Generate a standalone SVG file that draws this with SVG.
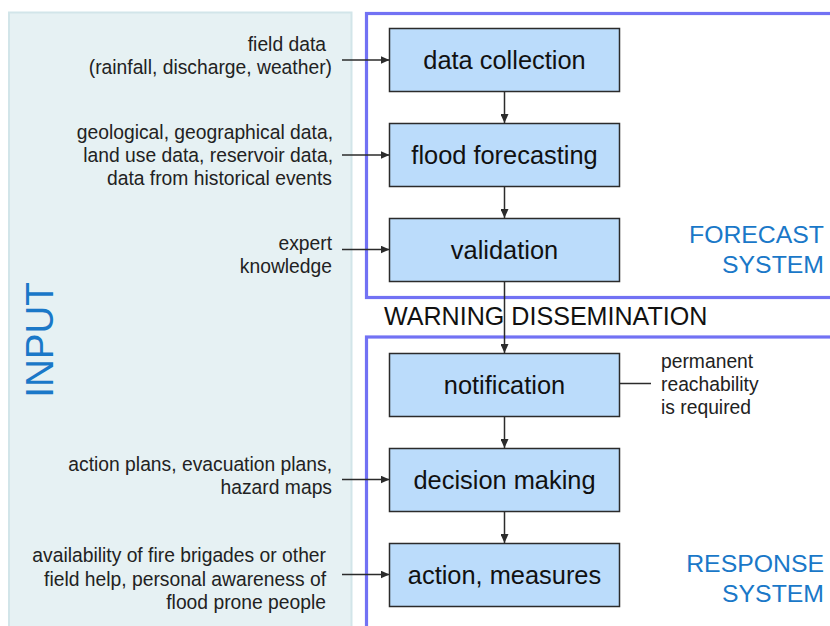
<svg xmlns="http://www.w3.org/2000/svg" width="830" height="626" viewBox="0 0 830 626">
  <style>
    .lbl { font-family: "Liberation Sans", Arial, sans-serif; font-size: 19.3px; fill: #222; }
    .node rect { fill: #bbdcfb; stroke: #2b2b2b; stroke-width: 1.5; }
    .node text { font-family: "Liberation Sans", Arial, sans-serif; font-size: 25.4px; fill: #111; text-anchor: middle; }
    .sys { font-family: "Liberation Sans", Arial, sans-serif; font-size: 24.8px; fill: #1a78c8; text-anchor: end; }
    .conn { stroke: #2b2b2b; stroke-width: 1.5; fill: none; }
    .frame { fill: none; stroke: #7272f4; stroke-width: 3.2; }
  </style>
  <defs>
    <marker id="arrow" markerWidth="9" markerHeight="8" refX="9" refY="4" orient="auto" markerUnits="userSpaceOnUse">
      <path d="M0,0 L9,4 L0,8 Z" fill="#2b2b2b"/>
    </marker>
  </defs>

  <rect width="830" height="626" fill="#ffffff"/>

  <!-- input panel -->
  <g id="input-panel">
    <rect x="9" y="12.5" width="342.5" height="620" fill="#e6f1f3" stroke="#d2e5e9" stroke-width="2"/>
    <text transform="translate(53,340) rotate(-90)" font-family="Liberation Sans, Arial, sans-serif" font-size="38.5" fill="#1a78c8" text-anchor="middle">INPUT</text>
  </g>

  <!-- system frames -->
  <g id="forecast-system">
    <rect class="frame" x="366.5" y="13.5" width="480" height="284"/>
    <text class="sys" x="824" y="243">FORECAST</text>
    <text class="sys" x="824" y="273">SYSTEM</text>
  </g>
  <g id="response-system">
    <rect class="frame" x="366.5" y="337" width="480" height="320"/>
    <text class="sys" x="824" y="572">RESPONSE</text>
    <text class="sys" x="824" y="602">SYSTEM</text>
  </g>

  <text id="warning-dissemination" x="384" y="325" font-family="Liberation Sans, Arial, sans-serif" font-size="25.1" fill="#111">WARNING DISSEMINATION</text>

  <!-- input labels -->
  <g id="input-labels" class="lbl" text-anchor="end">
    <text x="326" y="51">field data</text>
    <text x="332" y="74">(rainfall, discharge, weather)</text>
    <text x="333" y="139">geological, geographical data,</text>
    <text x="333" y="162">land use data, reservoir data,</text>
    <text x="332" y="185">data from historical events</text>
    <text x="332" y="250">expert</text>
    <text x="332" y="273">knowledge</text>
    <text x="332" y="471">action plans, evacuation plans,</text>
    <text x="332" y="494">hazard maps</text>
    <text x="326" y="562">availability of fire brigades or other</text>
    <text x="326" y="586">field help, personal awareness of</text>
    <text x="326" y="609">flood prone people</text>
  </g>

  <g id="note-label" class="lbl">
    <text x="661" y="368">permanent</text>
    <text x="661" y="391">reachability</text>
    <text x="661" y="414">is required</text>
  </g>

  <!-- connectors -->
  <g id="connectors">
    <line class="conn" x1="342" y1="60" x2="389.5" y2="60" marker-end="url(#arrow)"/>
    <line class="conn" x1="342" y1="155" x2="389.5" y2="155" marker-end="url(#arrow)"/>
    <line class="conn" x1="342" y1="249.5" x2="389.5" y2="249.5" marker-end="url(#arrow)"/>
    <line class="conn" x1="342" y1="479.5" x2="389.5" y2="479.5" marker-end="url(#arrow)"/>
    <line class="conn" x1="342" y1="574.5" x2="389.5" y2="574.5" marker-end="url(#arrow)"/>
    <line class="conn" x1="504.5" y1="91.5" x2="504.5" y2="123" marker-end="url(#arrow)"/>
    <line class="conn" x1="504.5" y1="186.5" x2="504.5" y2="218" marker-end="url(#arrow)"/>
    <line class="conn" x1="504.5" y1="281.5" x2="504.5" y2="353" marker-end="url(#arrow)"/>
    <line class="conn" x1="504.5" y1="416.5" x2="504.5" y2="448" marker-end="url(#arrow)"/>
    <line class="conn" x1="504.5" y1="511.5" x2="504.5" y2="543" marker-end="url(#arrow)"/>
    <line class="conn" x1="619.5" y1="383.5" x2="651" y2="383.5"/>
  </g>

  <!-- process nodes -->
  <g id="data-collection" class="node">
    <rect x="389.5" y="28.5" width="230" height="63"/>
    <text x="504.5" y="69">data collection</text>
  </g>
  <g id="flood-forecasting" class="node">
    <rect x="389.5" y="123.5" width="230" height="63"/>
    <text x="504.5" y="164">flood forecasting</text>
  </g>
  <g id="validation" class="node">
    <rect x="389.5" y="218.5" width="230" height="63"/>
    <text x="504.5" y="259">validation</text>
  </g>
  <g id="notification" class="node">
    <rect x="389.5" y="353.5" width="230" height="63"/>
    <text x="504.5" y="394">notification</text>
  </g>
  <g id="decision-making" class="node">
    <rect x="389.5" y="448.5" width="230" height="63"/>
    <text x="504.5" y="489">decision making</text>
  </g>
  <g id="action-measures" class="node">
    <rect x="389.5" y="543.5" width="230" height="63"/>
    <text x="504.5" y="584">action, measures</text>
  </g>
</svg>
